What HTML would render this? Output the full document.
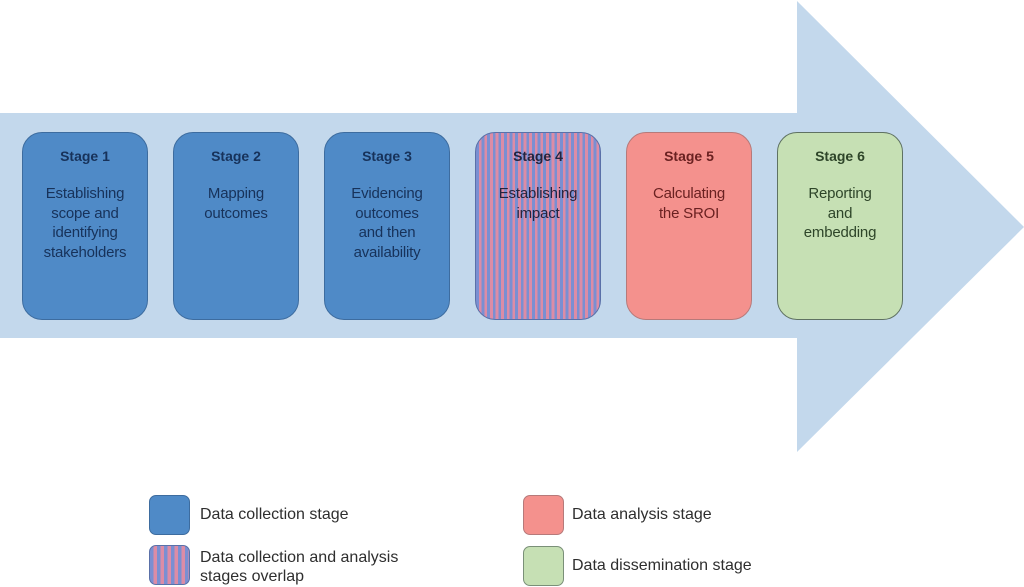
<!DOCTYPE html>
<html><head><meta charset="utf-8"><style>
html,body{margin:0;padding:0;background:#fff;}
#c{position:relative;width:1024px;height:587px;overflow:hidden;background:#fff;font-family:"Liberation Sans",sans-serif;}
.box{position:absolute;top:132px;width:124px;height:186px;border-radius:20px;border:1px solid #3d6c9f;}
.blue{background:#4f8ac7;color:#17325a;}
.stripe{background:repeating-linear-gradient(90deg,#7a8fd2 0px,#7a8fd2 2.8px,#dc8ca6 2.8px,#dc8ca6 5.6px);color:#24243f;border-color:#5a70a8;}
.red{background:#f4918d;color:#6a2121;border-color:#b67a7a;}
.green{background:#c6e0b4;color:#2e4529;border-color:#5f7262;}
.t{position:absolute;left:0;right:0;top:13px;text-align:center;font-weight:bold;font-size:14px;line-height:20px;}
.b{position:absolute;left:0;right:0;top:51px;text-align:center;font-size:15px;line-height:19.7px;letter-spacing:-0.2px;}
.lg{position:absolute;width:39px;height:38px;border-radius:7px;border:1px solid;}
.lt{position:absolute;font-size:16px;line-height:19px;color:#2e2e2e;}
</style></head><body><div id="c">
<svg width="1024" height="587" style="position:absolute;left:0;top:0">
<polygon points="0,113 797,113 797,1 1024,227 797,452 797,338 0,338" fill="#c3d8ec"/>
</svg>
<div class="box blue" style="left:22px"><div class="t">Stage 1</div><div class="b">Establishing<br>scope and<br>identifying<br>stakeholders</div></div>
<div class="box blue" style="left:173px"><div class="t">Stage 2</div><div class="b">Mapping<br>outcomes</div></div>
<div class="box blue" style="left:324px"><div class="t">Stage 3</div><div class="b">Evidencing<br>outcomes<br>and then<br>availability</div></div>
<div class="box stripe" style="left:475px"><div class="t">Stage 4</div><div class="b">Establishing<br>impact</div></div>
<div class="box red" style="left:626px"><div class="t">Stage 5</div><div class="b">Calculating<br>the SROI</div></div>
<div class="box green" style="left:777px"><div class="t">Stage 6</div><div class="b">Reporting<br>and<br>embedding</div></div>

<div class="lg" style="left:149px;top:495px;background:#4f8ac7;border-color:#3d6c9f"></div>
<div class="lt" style="left:200px;top:505px">Data collection stage</div>
<div class="lg" style="left:149px;top:545px;background:repeating-linear-gradient(90deg,#7a8fd2 0px,#7a8fd2 3.5px,#dc8ca6 3.5px,#dc8ca6 7px);border-color:#5a70a8"></div>
<div class="lt" style="left:200px;top:548px">Data collection and analysis<br>stages overlap</div>
<div class="lg" style="left:523px;top:495px;background:#f4918d;border-color:#b67a7a"></div>
<div class="lt" style="left:572px;top:505px">Data analysis stage</div>
<div class="lg" style="left:523px;top:546px;background:#c6e0b4;border-color:#7a9078"></div>
<div class="lt" style="left:572px;top:556px">Data dissemination stage</div>
</div></body></html>
